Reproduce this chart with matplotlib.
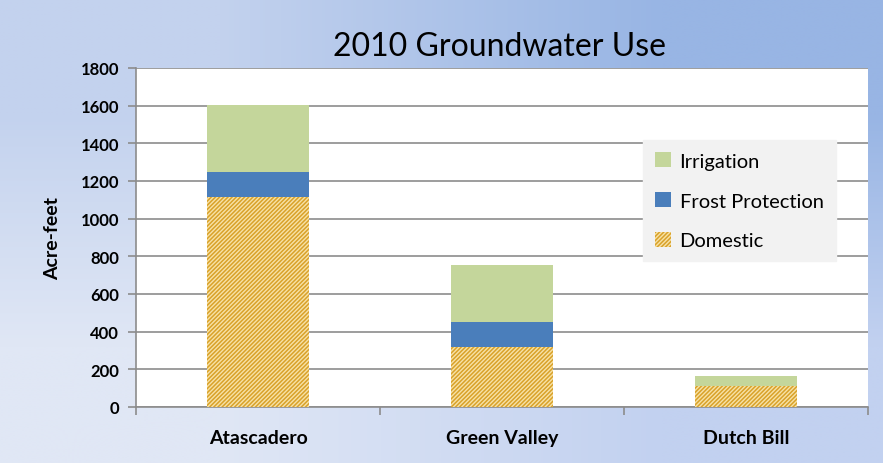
import matplotlib.pyplot as plt
import numpy as np
from matplotlib.colors import to_rgb

# data
sites = ["Atascadero", "Green Valley", "Dutch Bill"]
domestic = [1115, 320, 110]
frost = [135, 130, 0]
irrigation = [355, 305, 55]
yticks = [0, 200, 400, 600, 800, 1000, 1200, 1400, 1600, 1800]

plt.rcParams['font.family'] = ['Lato', 'DejaVu Sans']
plt.rcParams['hatch.linewidth'] = 1.1

fig = plt.figure(figsize=(8.83, 4.64), dpi=100)

# gradient background
bg = fig.add_axes([0, 0, 1, 1], zorder=-10)
corners = np.array([[to_rgb('#c3d2ee'), to_rgb('#98b5e4')],
                    [to_rgb('#e0e7f5'), to_rgb('#c2d1f0')]])
bg.imshow(corners, aspect='auto', interpolation='bilinear', extent=[0, 1, 0, 1])
bg.axis('off')

ax = fig.add_axes([136 / 883, 1 - 408 / 464, 732 / 883, 339 / 464])
ax.set_facecolor('white')

x = np.arange(len(sites))
w = 0.42
d = np.array(domestic)
f = np.array(frost)
ir = np.array(irrigation)

b_dom = ax.bar(x, d, w, color='#f7e2a6', edgecolor='#d9a22a', hatch='////////',
               linewidth=0, label='Domestic', zorder=3)
b_fr = ax.bar(x, f, w, bottom=d, color='#4a7ebb', linewidth=0,
              label='Frost Protection', zorder=3)
b_ir = ax.bar(x, ir, w, bottom=d + f, color='#c4d69b', linewidth=0,
              label='Irrigation', zorder=3)

ax.set_xlim(-0.5, 2.5)
ax.set_ylim(0, 1800)
ax.set_yticks(yticks)
ax.set_yticklabels([str(v) for v in yticks], fontweight='bold', fontsize=12)
ax.yaxis.grid(True, color='#8c8c8c', linewidth=1.2, zorder=0)
ax.set_axisbelow(True)

ax.set_xticks([-0.5, 0.5, 1.5, 2.5])
ax.set_xticklabels([])
ax.set_xticks(x, minor=True)
ax.set_xticklabels(sites, minor=True, fontweight='bold', fontsize=14)
ax.tick_params(axis='x', which='minor', length=0, pad=16)
ax.tick_params(axis='x', which='major', length=6, color='#8c8c8c', width=1.2)
ax.tick_params(axis='y', length=6, color='#8c8c8c', width=1.2, pad=6)

for s in ['top', 'right']:
    ax.spines[s].set_visible(False)
for s in ['left', 'bottom']:
    ax.spines[s].set_color('#8c8c8c')
    ax.spines[s].set_linewidth(1.2)

ax.set_ylabel('Acre-feet', fontweight='bold', fontsize=14, labelpad=14)

fig.text(0.566, 0.898, '2010 Groundwater Use', ha='center', va='center',
         fontsize=23)

leg = ax.legend([b_ir, b_fr, b_dom], ['Irrigation', 'Frost Protection', 'Domestic'],
                loc='upper left', bbox_to_anchor=(0.693, 0.788), fontsize=14.5,
                frameon=True, fancybox=False, handlelength=0.8,
                handleheight=0.8, handletextpad=0.4, labelspacing=1.1,
                borderpad=0.6, borderaxespad=0)
leg.get_frame().set_facecolor('#f2f2f2')
leg.get_frame().set_edgecolor('#f2f2f2')
leg.get_frame().set_alpha(1)

fig.savefig('out.png', dpi=100)
